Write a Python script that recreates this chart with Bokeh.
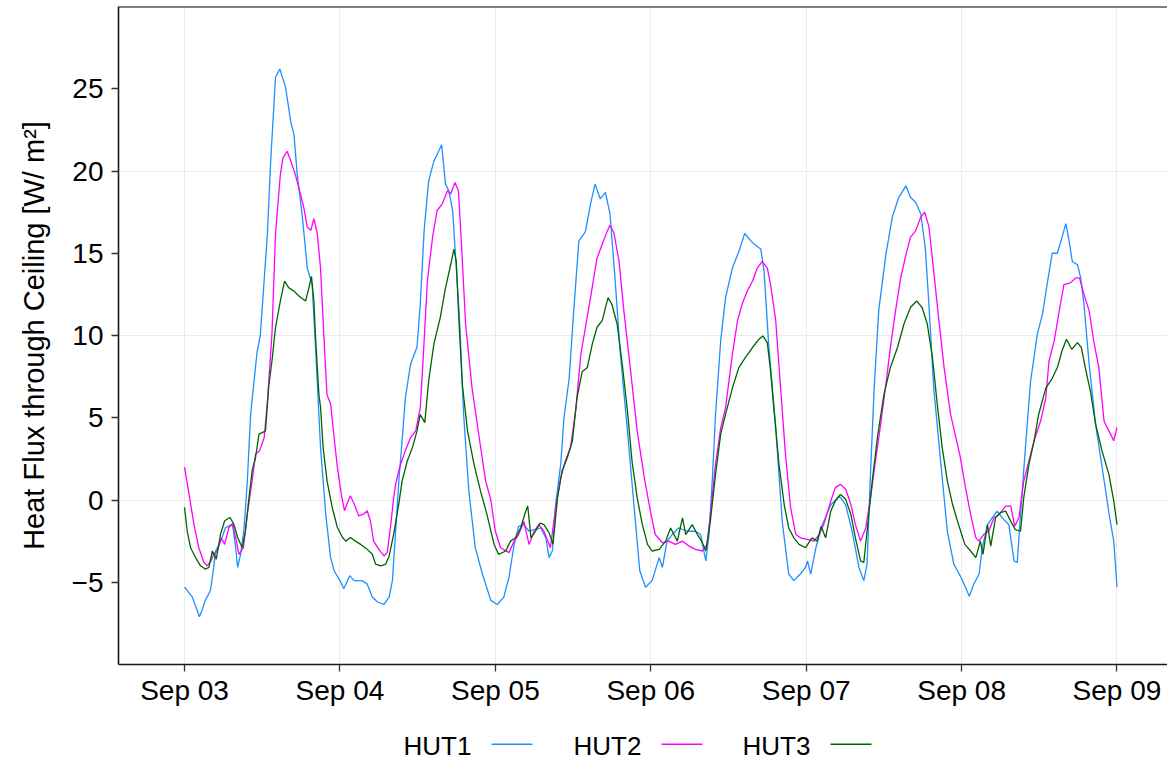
import datetime as dt
from bokeh.plotting import figure
from bokeh.layouts import column
from bokeh.models import FixedTicker, DatetimeTickFormatter, Span, Range1d
from bokeh.embed import file_html
from bokeh.resources import INLINE
from bokeh.core.properties import value

START = dt.datetime(2019, 9, 3)
SERIES = ["HUT1", "HUT2", "HUT3"]
COLORS = ["#1E90FF", "#FF00FF", "#006400"]
DAY_TICKS = [0, 1, 2, 3, 4, 5, 6]
Y_TICKS = [-5, 0, 5, 10, 15, 20, 25]
Y_GRID = [-10, 0, 10, 20, 30]

# hours since Sep 03 00:00 and heat flux [W/m2]
hut1_hours = [0, 1.2, 2.3, 2.7, 3.2, 4.0, 4.5, 4.8, 5.6, 6.3, 7.4, 7.9, 8.2, 8.65, 9.2, 9.7, 10.2, 11.2, 11.7, 12.8,
              13.3, 14.05, 14.7, 15.6, 16.4, 16.9, 17.4, 18.2, 18.95, 19.7, 20.2, 21.0, 21.8, 22.55, 23.1, 24.0,
              24.6, 25.5, 26.2, 27.4, 28.2, 29.0, 29.8, 30.8, 31.6, 32.1, 32.6, 33.1, 33.6, 34.1, 34.9, 35.9, 36.4,
              37.0, 37.7, 38.5, 39.0, 39.7, 40.3, 40.8, 41.4, 42.0, 42.5, 43.1, 43.9, 44.9, 46.0, 47.3, 48.3,
              49.3, 50.1, 50.9, 51.6, 52.4, 53.2, 54.0, 55.0, 55.8, 56.3, 56.8, 57.3, 58.1, 58.6, 59.4, 60.1, 60.9,
              61.9, 62.7, 63.4, 64.2, 65.0, 65.7, 66.4, 67.3, 68.4, 69.4, 70.3, 71.2, 72.2,
              73.3, 73.8, 74.5, 75.3, 76.3, 77.6, 78.9, 79.7, 80.5, 81.0, 81.5, 82.0, 82.8, 83.55, 84.6, 85.6, 86.5,
              87.7, 89.0, 89.5, 90.2, 91.3, 92.3, 93.3, 94.1, 95.1, 95.9,
              96.2, 96.7, 97.5, 98.5, 99.8, 101.1, 102.1, 103.1, 104.15, 104.9, 105.4, 105.95, 106.5, 107.2, 108.3,
              109.3, 110.3, 111.4, 112.1, 112.9, 113.7, 114.4, 114.95, 115.7, 116.8, 117.8, 118.8, 119.9,
              120.6, 121.2, 121.9, 122.7, 123.2, 124.0, 124.7, 125.5, 126.3, 127.3, 128.1, 128.6, 129.1, 129.9,
              130.65, 131.7, 132.5, 133.2, 134.0, 134.8, 135.5, 136.1, 136.6, 137.1, 137.9, 138.4, 138.9, 139.7,
              140.7, 141.7, 142.8, 143.5, 144.0]
hut1_values = [-5.3, -5.9, -7.1, -6.7, -6.1, -5.5, -4.1, -3.1, -2.5, -1.7, -1.45, -2.9, -4.1, -3.3, -1.7, 1.2, 5.2, 9.0, 10.0, 16.2,
               20.6, 25.7, 26.2, 25.1, 23.0, 22.2, 19.8, 17.2, 14.1, 13.1, 9.5, 3.2, -0.85, -3.5, -4.3, -4.9,
               -5.4, -4.6, -4.9, -4.9, -5.1, -5.9, -6.2, -6.35, -5.9, -4.9, -1.9, 1.2, 3.6, 6.2, 8.25, 9.3, 11.9,
               16.4, 19.4, 20.6, 21.0, 21.6, 19.2, 18.8, 17.6, 13.9, 10.7, 5.2, 0.55, -2.9, -4.5, -6.1, -6.35,
               -5.9, -4.7, -2.7, -1.6, -1.5, -1.9, -1.8, -1.7, -2.3, -3.5, -3.1, -0.3, 2.2, 5.0, 7.4, 11.5, 15.75,
               16.3, 18.0, 19.2, 18.3, 18.7, 17.4, 13.9, 8.9, 4.2, -0.3, -4.3, -5.3, -4.9,
               -3.5, -4.1, -2.5, -2.1, -1.7, -1.9, -1.9, -2.1, -3.7, -2.1, 1.2, 5.2, 9.7, 12.3, 14.1, 15.1, 16.2,
               15.65, 15.25, 13.9, 9.5, 4.4, -1.3, -4.5, -4.9, -4.5, -4.1,
               -3.7, -4.5, -2.9, -1.5, -0.3, 0.24, -0.3, -1.9, -4.1, -4.9, -3.9, 1.76, 6.8, 11.5, 14.9,
               17.2, 18.4, 19.1, 18.4, 18.1, 17.4, 15.3, 11.9, 6.8, 2.2, -1.9, -3.9, -4.7,
               -5.3, -5.85, -5.1, -4.5, -2.9, -1.5, -1.1, -0.67, -1.1, -1.5, -3.7, -3.8, -0.9, 3.4,
               7.2, 10.1, 11.3, 13.1, 15.0, 15.0, 15.95, 16.8, 15.75, 14.5, 14.3, 13.5, 11.9, 8.25,
               4.6, 2.0, -0.9, -2.5, -5.3]

hut2_hours = [0, 0.67, 1.44, 2.2, 3.0, 3.5, 4.1, 4.5, 5.05, 5.66, 6.2, 6.85, 7.4, 7.9, 8.4, 9.1, 9.7, 10.45, 10.97, 11.6,
              12.3, 12.8, 13.5, 14.05, 14.8, 15.2, 15.85, 16.6, 17.1, 17.9, 18.4, 18.95, 19.5, 19.97, 20.5, 21.0,
              21.5, 22.0, 22.55, 23.1, 23.6, 24.2, 24.7, 25.1, 25.6, 26.2, 26.9, 27.7, 28.2, 28.7, 29.2, 30.0,
              30.8, 31.3, 31.8, 32.3, 32.6, 33.1, 33.4, 34.1, 34.9, 35.7, 36.4, 36.8, 37.5, 38.3, 39.0, 39.8,
              40.6, 41.1, 41.75, 42.3, 42.8, 43.4, 44.4, 45.5, 46.5, 47.3, 48.0, 48.8, 50.1, 50.9, 51.6, 52.4,
              53.2, 54.0, 54.7, 55.5, 56.5, 57.3, 58.1, 58.8, 59.6, 60.4, 61.2, 62.0, 62.7, 63.7, 64.5, 65.3,
              65.7, 66.3, 67.1, 67.85, 68.9, 69.9, 71.0, 72.0, 72.7, 73.8, 74.8, 75.8, 76.9, 77.9, 78.9, 79.95,
              80.7, 81.2, 82.0, 82.8, 83.55, 84.6, 85.4, 86.1, 86.9, 87.7, 88.45, 89.2, 90.0, 90.5, 91.3, 92.05,
              92.8, 93.6, 94.4, 95.1, 96.2, 97.2, 98.0, 98.7, 99.8, 100.5, 101.3, 102.1, 102.9, 103.6, 104.4,
              105.2, 105.95, 106.7, 107.5, 108.3, 109.0, 109.8, 110.6, 111.4, 112.1, 112.9, 113.7, 114.3, 114.96,
              115.7, 116.5, 117.3, 118.3, 119.0, 119.8, 120.6, 121.4, 122.2, 122.7, 123.4, 124.2, 125.0, 125.8,
              126.8, 127.6, 128.2, 128.85, 129.6, 130.4, 131.2, 132.2, 133.0, 133.5, 134.3, 135.0, 135.8, 136.8,
              137.6, 138.2, 138.9, 139.7, 140.4, 141.2, 142.0, 142.75, 143.5, 144.0]
hut2_values = [2.0, 0.4, -1.46, -2.9, -3.8, -4.0, -3.7, -3.3, -3.1, -2.3, -2.7, -1.67, -1.46, -2.3, -3.3, -2.9, -0.85, 1.2, 2.8, 3.0,
               3.8, 6.0, 10.1, 16.2, 19.8, 20.8, 21.2, 20.4, 19.8, 18.6, 17.8, 16.6, 16.4, 17.1, 16.2, 14.1,
               10.1, 6.4, 5.85, 3.8, 2.0, 0.37, -0.65, -0.24, 0.26, -0.24, -0.96, -0.85, -0.65, -1.26, -2.5, -3.0,
               -3.4, -3.2, -1.67, 0.16, 0.95, 1.8, 2.2, 3.0, 3.8, 4.2, 5.6, 8.25, 13.3, 15.96, 17.6, 18.0,
               18.8, 18.6, 19.3, 18.8, 15.3, 10.7, 6.8, 3.8, 1.16, 0.0, -1.9, -2.9, -3.2, -2.5, -2.1, -1.3,
               -2.7, -1.9, -1.5, -1.9, -2.9, -0.5, 1.36, 2.37, 3.18, 5.4, 8.86, 10.7, 12.3, 14.7, 15.55, 16.36,
               16.7, 16.26, 14.5, 11.5, 7.8, 4.2, 1.36, -0.8, -2.1, -2.6, -2.5, -2.7, -2.5, -2.8, -3.0, -3.1,
               -2.7, -0.87, 2.17, 4.4, 5.6, 8.86, 10.9, 11.9, 12.7, 13.3, 14.1, 14.5, 14.1, 13.1, 10.9, 6.8,
               2.8, -0.47, -2.1, -2.3, -2.4, -2.5, -2.1, -1.5, -0.06, 0.75, 0.95, 0.65, -0.26, -1.5, -2.5,
               -1.7, 0.14, 2.37, 4.6, 7.0, 9.26, 11.5, 13.5, 14.9, 15.96, 16.36, 17.2, 17.5, 16.6,
               13.9, 10.9, 8.05, 5.2, 4.0, 2.6, 0.75, -0.88, -2.3, -2.5, -2.1, -1.9, -1.08, -0.88,
               -0.37, -0.37, -1.6, -1.08, 1.15, 2.37, 3.6, 4.8, 6.2, 8.45, 9.67, 11.3, 13.1, 13.2,
               13.5, 13.5, 12.5, 11.5, 9.67, 8.05, 4.8, 4.2, 3.6, 4.4]

hut3_hours = [0, 0.4, 0.93, 1.7, 2.47, 3.2, 3.76, 4.3, 4.9, 5.56, 6.2, 7.0, 7.6, 8.2, 8.9, 9.4, 9.9, 10.45, 10.97, 11.5,
              12.0, 12.5, 13.0, 13.5, 14.05, 14.8, 15.45, 16.1, 16.9, 17.65, 18.7, 19.2, 19.6, 19.97, 20.2, 20.75,
              21.0, 21.4, 22.0, 22.8, 23.6, 24.4, 24.9, 25.6, 26.4, 27.2, 28.2, 29.0, 29.5, 30.3, 31.05, 31.6,
              32.3, 33.1, 33.6, 34.4, 35.2, 35.9, 36.4, 37.1, 37.7, 38.5, 39.5, 40.3, 41.1, 41.6, 41.96, 42.4,
              42.9, 43.7, 44.7, 45.7, 46.7, 47.8, 48.5, 49.6, 50.35, 51.1, 51.9, 52.7, 53.0, 53.5, 54.2, 54.9,
              55.5, 56.3, 56.9, 57.6, 58.3, 59.1, 59.9, 60.6, 61.4, 62.2, 62.96, 63.7, 64.5, 65.4, 66.0, 66.8,
              67.6, 68.4, 69.1, 69.9, 70.7, 71.5, 72.2, 73.3, 74.3, 75.06, 76.1, 76.9, 77.4, 78.4, 79.2, 79.85,
              80.5, 81.2, 82.0, 82.8, 83.55, 84.6, 85.6, 86.6, 87.7, 88.7, 89.3, 90.0, 90.5, 91.0, 91.8, 92.6,
              93.3, 94.1, 94.9, 95.9, 96.9, 97.7, 98.3, 99.0, 99.8, 100.5, 101.3, 102.1, 102.9, 103.6, 104.4,
              104.9, 105.4, 106.2, 107.0, 108.0, 109.0, 110.1, 111.1, 112.1, 113.05, 113.9, 114.7, 115.5, 116.25,
              117.0, 117.8, 118.6, 119.3, 120.5, 121.4, 122.2, 122.9, 123.3, 124.0, 124.5, 125.25, 126.0, 126.8,
              127.6, 128.3, 129.1, 129.6, 130.4, 131.2, 131.9, 133.0, 134.0, 134.8, 135.5, 136.2, 137.0, 137.9,
              138.5, 139.1, 139.9, 140.7, 141.7, 142.75, 143.5, 144.0]
hut3_values = [-0.45, -1.87, -2.9, -3.5, -4.0, -4.2, -4.1, -3.1, -3.6, -2.07, -1.26, -1.06, -1.46, -2.28, -2.9, -1.87, -0.04, 1.8, 2.6, 4.0,
               4.1, 4.2, 6.9, 8.45, 10.5, 12.1, 13.3, 12.9, 12.7, 12.4, 12.1, 12.9, 13.6, 12.1, 10.1, 6.4,
               5.65, 3.2, 1.18, -0.45, -1.67, -2.28, -2.5, -2.28, -2.5, -2.7, -3.0, -3.3, -3.9, -4.0, -3.9, -3.4,
               -2.07, -0.2, 1.16, 2.37, 3.2, 4.2, 5.2, 4.7, 7.24, 9.47, 11.1, 12.9, 14.3, 15.25, 14.5, 10.7,
               7.0, 4.2, 2.17, 0.55, -0.87, -2.7, -3.3, -3.1, -2.5, -2.3, -1.7, -0.67, -0.37, -2.3, -1.9, -1.4,
               -1.5, -2.0, -2.7, 0.14, 1.76, 2.57, 3.6, 6.2, 7.8, 8.05, 9.47, 10.5, 10.9, 12.3, 11.9, 10.7,
               8.25, 5.4, 2.37, 0.14, -1.5, -2.7, -3.1, -3.0, -2.5, -1.7, -2.5, -1.08, -2.1, -1.5, -2.1, -2.5,
               -3.1, -1.3, 1.56, 4.0, 5.2, 6.8, 8.05, 8.66, 9.27, 9.77, 9.97, 9.57, 7.85, 5.6, 2.17, -0.26,
               -1.7, -2.3, -2.7, -2.9, -2.3, -2.5, -1.6, -2.3, -0.67, -0.06, 0.34, 0.04, -0.87, -2.3, -3.7,
               -3.8, -1.9, 1.15, 3.8, 6.4, 8.05, 9.27, 10.7, 11.7, 12.1, 11.7, 10.7, 8.66, 5.8,
               3.2, 1.15, -0.26, -1.2, -2.7, -3.1, -3.5, -2.5, -3.3, -1.5, -2.8, -1.08, -0.77, -0.67,
               -1.3, -1.8, -1.9, 0.14, 2.17, 3.6, 5.2, 6.8, 7.4, 8.05, 9.06, 9.77, 9.16, 9.57,
               9.26, 8.05, 6.6, 4.6, 2.97, 1.56, -0.06, -1.5]

FONT = "Liberation Sans"


def times(hours):
    return [START + dt.timedelta(hours=h) for h in hours]


def ms(t):
    return (t - dt.datetime(1970, 1, 1)).total_seconds() * 1000.0


p = figure(width=1167, height=712, x_axis_type="datetime", output_backend="svg", toolbar_location=None,
           x_range=Range1d(START - dt.timedelta(hours=10.2), START + dt.timedelta(hours=151.8)),
           y_range=Range1d(-10, 30),
           min_border_left=118, min_border_right=0, min_border_top=6, min_border_bottom=48)
p.outline_line_color = None
p.background_fill_color = "white"
p.border_fill_color = "white"

for hrs, vals, col in zip([hut1_hours, hut2_hours, hut3_hours], [hut1_values, hut2_values, hut3_values], COLORS):
    p.line(times(hrs), vals, line_color=col, line_width=1.3)

day_ms = [ms(START + dt.timedelta(days=d)) for d in DAY_TICKS]
p.xaxis.ticker = FixedTicker(ticks=day_ms)
p.xaxis.formatter = DatetimeTickFormatter(days="%b %d", months="%b %d", hours="%b %d", years="%b %d")
p.yaxis.ticker = FixedTicker(ticks=Y_TICKS)
p.xgrid.ticker = FixedTicker(ticks=day_ms)
p.ygrid.ticker = FixedTicker(ticks=Y_GRID)
p.grid.grid_line_color = "#EBEBEB"
p.grid.grid_line_width = 1

for ax in (p.xaxis[0], p.yaxis[0]):
    ax.axis_line_color = "#1a1a1a"
    ax.axis_line_width = 1.6
    ax.major_tick_line_color = "#333333"
    ax.major_tick_line_width = 1.3
    ax.major_tick_out = 7
    ax.major_tick_in = 0
    ax.minor_tick_line_color = None
    ax.major_label_text_font = FONT
    ax.major_label_text_font_size = "28px"
    ax.major_label_text_color = "black"

p.xaxis.major_label_standoff = 3
p.yaxis.major_label_standoff = 8
p.yaxis.axis_label = "Heat Flux through Ceiling [W/ m\u00b2]"
p.yaxis.axis_label_text_font = FONT
p.yaxis.axis_label_text_font_size = "29px"
p.yaxis.axis_label_text_font_style = "normal"
p.yaxis.axis_label_text_color = "black"
p.yaxis.axis_label_standoff = 19

p.add_layout(Span(location=30, dimension="width", line_color="black", line_width=2))

# legend strip below the chart; its frame is aligned with the chart frame (x = page pixels)
leg = figure(width=1167, height=47, x_range=Range1d(118, 1167), y_range=Range1d(0, 47),
             output_backend="svg", toolbar_location=None, min_border=0,
             min_border_left=118, min_border_right=0,
             x_axis_location=None, y_axis_location=None)
leg.outline_line_color = None
leg.grid.visible = False
leg.text(x=[403, 573, 742], y=[14, 14, 14], text=SERIES, text_font=value(FONT), text_font_size="26px",
         text_baseline="middle", text_color="black")
leg.segment(x0=[491, 661, 830], y0=[15.3] * 3, x1=[532, 702, 871], y1=[15.3] * 3, line_color=COLORS,
            line_width=1.5)

layout = column(p, leg, spacing=0)
open("out.html", "w").write(file_html(layout, INLINE))
